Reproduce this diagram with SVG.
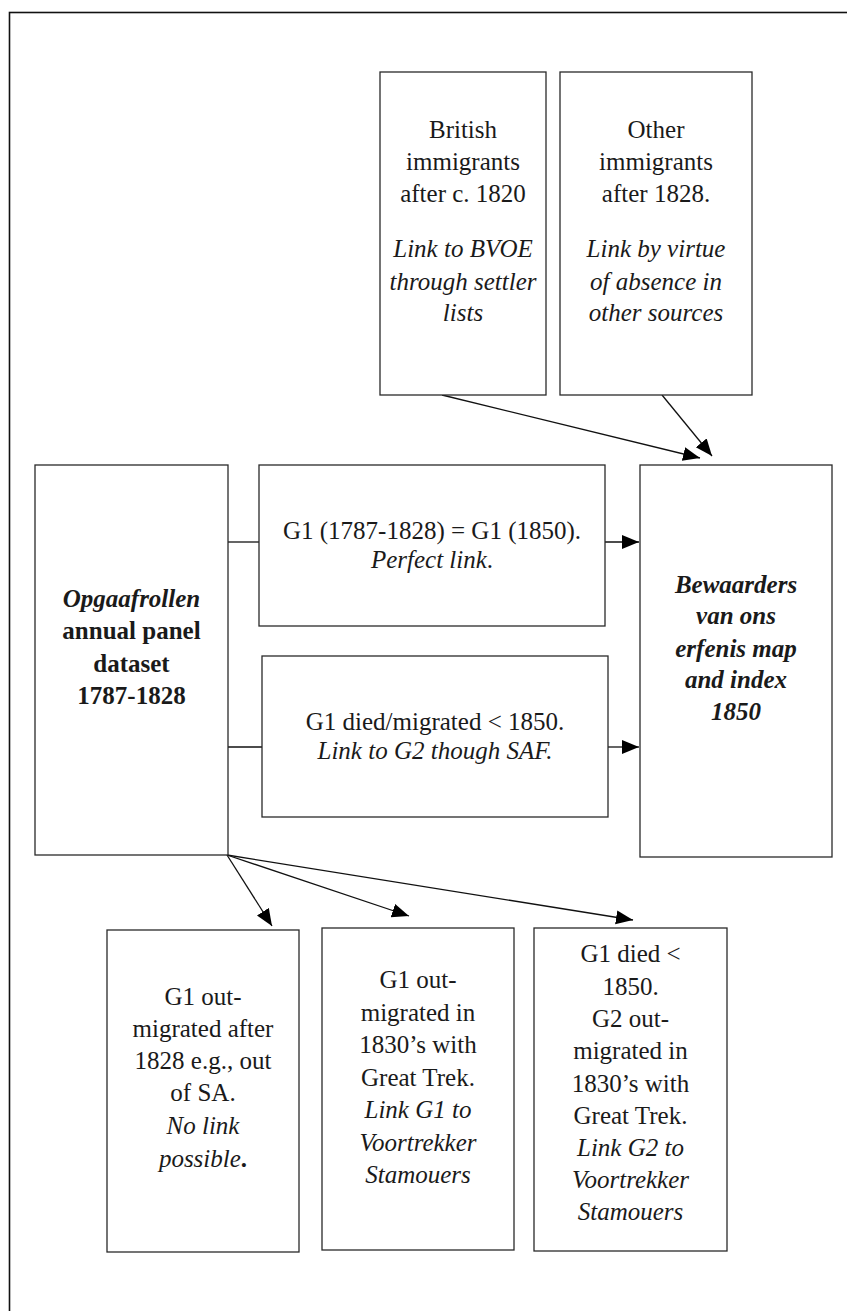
<svg xmlns="http://www.w3.org/2000/svg" width="847" height="1311" viewBox="0 0 847 1311">
<style>
.box{fill:#fff;stroke:#2a2a2a;stroke-width:1.3}
.ln{stroke:#111;stroke-width:1.3;fill:none}
text{fill:#1a1a1a;text-anchor:middle;font-size:25px}
.i{font-style:italic}
.b{font-weight:bold}
.bi{font-weight:bold;font-style:italic}
</style>
<defs>
<marker id="ah" markerUnits="userSpaceOnUse" markerWidth="18" markerHeight="16" refX="17" refY="7" orient="auto">
<path d="M0,0 L17,7 L0,14 z" fill="#000"/>
</marker>
</defs>
<rect x="9.5" y="12.5" width="900" height="1400" fill="#fff" stroke="#111" stroke-width="1.6"/>
<g id="connectors">
<line class="ln" x1="442" y1="395" x2="700" y2="458" marker-end="url(#ah)"/>
<line class="ln" x1="662" y1="395" x2="712" y2="456" marker-end="url(#ah)"/>
<line class="ln" x1="228" y1="542" x2="259" y2="542"/>
<line class="ln" x1="228" y1="747" x2="262" y2="747"/>
<line class="ln" x1="605" y1="542" x2="639" y2="542" marker-end="url(#ah)"/>
<line class="ln" x1="608" y1="747" x2="639" y2="747" marker-end="url(#ah)"/>
<line class="ln" x1="227" y1="855" x2="272" y2="926" marker-end="url(#ah)"/>
<line class="ln" x1="227" y1="855" x2="409" y2="916" marker-end="url(#ah)"/>
<line class="ln" x1="227" y1="855" x2="633" y2="920" marker-end="url(#ah)"/>
</g>
<g id="british">
<rect class="box" x="380" y="72" width="166" height="323"/>
<text font-family="Liberation Serif" x="463" y="138">British</text>
<text font-family="Liberation Serif" x="463" y="170">immigrants</text>
<text font-family="Liberation Serif" x="463" y="202">after c. 1820</text>
<text font-family="Liberation Serif" class="i" x="463" y="257">Link to BVOE</text>
<text font-family="Liberation Serif" class="i" x="463" y="290">through settler</text>
<text font-family="Liberation Serif" class="i" x="463" y="321">lists</text>
</g>
<g id="other">
<rect class="box" x="560" y="72" width="192" height="323"/>
<text font-family="Liberation Serif" x="656" y="138">Other</text>
<text font-family="Liberation Serif" x="656" y="170">immigrants</text>
<text font-family="Liberation Serif" x="656" y="202">after 1828.</text>
<text font-family="Liberation Serif" class="i" x="656" y="257">Link by virtue</text>
<text font-family="Liberation Serif" class="i" x="656" y="290">of absence in</text>
<text font-family="Liberation Serif" class="i" x="656" y="321">other sources</text>
</g>
<g id="opgaafrollen">
<rect class="box" x="35" y="465" width="193" height="390"/>
<text font-family="Liberation Serif" class="bi" x="131.5" y="607">Opgaafrollen</text>
<text font-family="Liberation Serif" class="b" x="131.5" y="639">annual panel</text>
<text font-family="Liberation Serif" class="b" x="131.5" y="672">dataset</text>
<text font-family="Liberation Serif" class="b" x="131.5" y="704">1787-1828</text>
</g>
<g id="perfect">
<rect class="box" x="259" y="465" width="346" height="161"/>
<text font-family="Liberation Serif" x="432" y="539">G1 (1787-1828) = G1 (1850).</text>
<text font-family="Liberation Serif" x="432" y="568"><tspan class="i">Perfect link</tspan>.</text>
</g>
<g id="died">
<rect class="box" x="262" y="656" width="346" height="161"/>
<text font-family="Liberation Serif" x="435" y="730">G1 died/migrated &lt; 1850.</text>
<text font-family="Liberation Serif" class="i" x="435" y="759">Link to G2 though SAF.</text>
</g>
<g id="bewaarders">
<rect class="box" x="640" y="465" width="192" height="392"/>
<text font-family="Liberation Serif" class="bi" x="736" y="593">Bewaarders</text>
<text font-family="Liberation Serif" class="bi" x="736" y="624">van ons</text>
<text font-family="Liberation Serif" class="bi" x="736" y="657">erfenis map</text>
<text font-family="Liberation Serif" class="bi" x="736" y="688">and index</text>
<text font-family="Liberation Serif" class="bi" x="736" y="720">1850</text>
</g>
<g id="nolink">
<rect class="box" x="107" y="930" width="192" height="322"/>
<text font-family="Liberation Serif" x="203" y="1005">G1 out-</text>
<text font-family="Liberation Serif" x="203" y="1037">migrated after</text>
<text font-family="Liberation Serif" x="203" y="1069">1828 e.g., out</text>
<text font-family="Liberation Serif" x="203" y="1101">of SA.</text>
<text font-family="Liberation Serif" class="i" x="203" y="1134">No link</text>
<text font-family="Liberation Serif" x="203" y="1167"><tspan class="i">possible</tspan><tspan class="b">.</tspan></text>
</g>
<g id="trekG1">
<rect class="box" x="322" y="928" width="192" height="322"/>
<text font-family="Liberation Serif" x="418" y="988">G1 out-</text>
<text font-family="Liberation Serif" x="418" y="1021">migrated in</text>
<text font-family="Liberation Serif" x="418" y="1053">1830’s with</text>
<text font-family="Liberation Serif" x="418" y="1086">Great Trek.</text>
<text font-family="Liberation Serif" class="i" x="418" y="1118">Link G1 to</text>
<text font-family="Liberation Serif" class="i" x="418" y="1151">Voortrekker</text>
<text font-family="Liberation Serif" class="i" x="418" y="1183">Stamouers</text>
</g>
<g id="trekG2">
<rect class="box" x="534" y="928" width="193" height="323"/>
<text font-family="Liberation Serif" x="630.5" y="962">G1 died &lt;</text>
<text font-family="Liberation Serif" x="630.5" y="995">1850.</text>
<text font-family="Liberation Serif" x="630.5" y="1027">G2 out-</text>
<text font-family="Liberation Serif" x="630.5" y="1059">migrated in</text>
<text font-family="Liberation Serif" x="630.5" y="1092">1830’s with</text>
<text font-family="Liberation Serif" x="630.5" y="1124">Great Trek.</text>
<text font-family="Liberation Serif" class="i" x="630.5" y="1156">Link G2 to</text>
<text font-family="Liberation Serif" class="i" x="630.5" y="1188">Voortrekker</text>
<text font-family="Liberation Serif" class="i" x="630.5" y="1220">Stamouers</text>
</g>
</svg>
